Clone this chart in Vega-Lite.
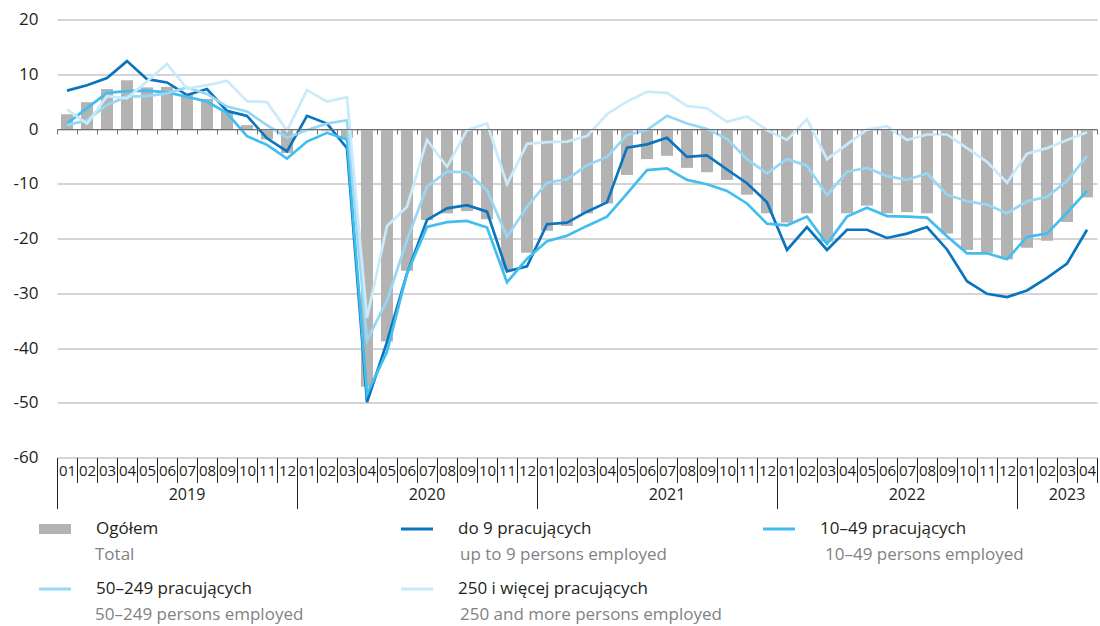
{
"$schema": "https://vega.github.io/schema/vega-lite/v6.json",
"width": 1040, "height": 438,
"autosize": {"type": "none"},
"padding": {"left": 57, "top": 19.5, "right": 3, "bottom": 168.5},
"background": "white",
"config": {"view": {"stroke": null}, "font": "Open Sans"},
"datasets": {
"series": [
{"s": "Ogółem", "en": "Total"},
{"s": "do 9 pracujących", "en": "up to 9 persons employed"},
{"s": "10–49 pracujących", "en": "10–49 persons employed"},
{"s": "50–249 pracujących", "en": "50–249 persons employed"},
{"s": "250 i więcej pracujących", "en": "250 and more persons employed"}
],
"main": [
{"m":"2019-01","s":"Ogółem","v":2.7},{"m":"2019-02","s":"Ogółem","v":4.9},{"m":"2019-03","s":"Ogółem","v":7.3},{"m":"2019-04","s":"Ogółem","v":8.9},{"m":"2019-05","s":"Ogółem","v":7.6},{"m":"2019-06","s":"Ogółem","v":7.7},{"m":"2019-07","s":"Ogółem","v":6.3},{"m":"2019-08","s":"Ogółem","v":5.5},{"m":"2019-09","s":"Ogółem","v":3.2},{"m":"2019-10","s":"Ogółem","v":0.7},{"m":"2019-11","s":"Ogółem","v":-1.9},{"m":"2019-12","s":"Ogółem","v":-4.4},
{"m":"2020-01","s":"Ogółem","v":-0.3},{"m":"2020-02","s":"Ogółem","v":-0.4},{"m":"2020-03","s":"Ogółem","v":-1.6},{"m":"2020-04","s":"Ogółem","v":-47.1},{"m":"2020-05","s":"Ogółem","v":-38.8},{"m":"2020-06","s":"Ogółem","v":-25.9},{"m":"2020-07","s":"Ogółem","v":-16.6},{"m":"2020-08","s":"Ogółem","v":-15.4},{"m":"2020-09","s":"Ogółem","v":-15.0},{"m":"2020-10","s":"Ogółem","v":-16.5},{"m":"2020-11","s":"Ogółem","v":-25.8},{"m":"2020-12","s":"Ogółem","v":-22.6},
{"m":"2021-01","s":"Ogółem","v":-18.6},{"m":"2021-02","s":"Ogółem","v":-17.7},{"m":"2021-03","s":"Ogółem","v":-15.4},{"m":"2021-04","s":"Ogółem","v":-13.6},{"m":"2021-05","s":"Ogółem","v":-8.4},{"m":"2021-06","s":"Ogółem","v":-5.5},{"m":"2021-07","s":"Ogółem","v":-4.9},{"m":"2021-08","s":"Ogółem","v":-7.1},{"m":"2021-09","s":"Ogółem","v":-7.9},{"m":"2021-10","s":"Ogółem","v":-9.3},{"m":"2021-11","s":"Ogółem","v":-12.0},{"m":"2021-12","s":"Ogółem","v":-15.4},
{"m":"2022-01","s":"Ogółem","v":-17.1},{"m":"2022-02","s":"Ogółem","v":-15.4},{"m":"2022-03","s":"Ogółem","v":-20.6},{"m":"2022-04","s":"Ogółem","v":-15.4},{"m":"2022-05","s":"Ogółem","v":-14.0},{"m":"2022-06","s":"Ogółem","v":-15.4},{"m":"2022-07","s":"Ogółem","v":-15.2},{"m":"2022-08","s":"Ogółem","v":-15.4},{"m":"2022-09","s":"Ogółem","v":-19.1},{"m":"2022-10","s":"Ogółem","v":-22.1},{"m":"2022-11","s":"Ogółem","v":-22.6},{"m":"2022-12","s":"Ogółem","v":-23.8},
{"m":"2023-01","s":"Ogółem","v":-21.7},{"m":"2023-02","s":"Ogółem","v":-20.4},{"m":"2023-03","s":"Ogółem","v":-17.0},{"m":"2023-04","s":"Ogółem","v":-12.5},

{"m":"2019-01","s":"do 9 pracujących","v":7.0},{"m":"2019-02","s":"do 9 pracujących","v":8.0},{"m":"2019-03","s":"do 9 pracujących","v":9.3},{"m":"2019-04","s":"do 9 pracujących","v":12.4},{"m":"2019-05","s":"do 9 pracujących","v":9.1},{"m":"2019-06","s":"do 9 pracujących","v":8.5},{"m":"2019-07","s":"do 9 pracujących","v":6.2},{"m":"2019-08","s":"do 9 pracujących","v":7.3},{"m":"2019-09","s":"do 9 pracujących","v":3.3},{"m":"2019-10","s":"do 9 pracujących","v":2.4},{"m":"2019-11","s":"do 9 pracujących","v":-1.7},{"m":"2019-12","s":"do 9 pracujących","v":-4.1},
{"m":"2020-01","s":"do 9 pracujących","v":2.4},{"m":"2020-02","s":"do 9 pracujących","v":1.0},{"m":"2020-03","s":"do 9 pracujących","v":-3.5},{"m":"2020-04","s":"do 9 pracujących","v":-49.9},{"m":"2020-05","s":"do 9 pracujących","v":-38.9},{"m":"2020-06","s":"do 9 pracujących","v":-26.4},{"m":"2020-07","s":"do 9 pracujących","v":-16.6},{"m":"2020-08","s":"do 9 pracujących","v":-14.5},{"m":"2020-09","s":"do 9 pracujących","v":-13.9},{"m":"2020-10","s":"do 9 pracujących","v":-15.1},{"m":"2020-11","s":"do 9 pracujących","v":-26.0},{"m":"2020-12","s":"do 9 pracujących","v":-25.1},
{"m":"2021-01","s":"do 9 pracujących","v":-17.4},{"m":"2021-02","s":"do 9 pracujących","v":-17.1},{"m":"2021-03","s":"do 9 pracujących","v":-15.1},{"m":"2021-04","s":"do 9 pracujących","v":-13.4},{"m":"2021-05","s":"do 9 pracujących","v":-3.4},{"m":"2021-06","s":"do 9 pracujących","v":-2.8},{"m":"2021-07","s":"do 9 pracujących","v":-1.6},{"m":"2021-08","s":"do 9 pracujących","v":-5.1},{"m":"2021-09","s":"do 9 pracujących","v":-4.8},{"m":"2021-10","s":"do 9 pracujących","v":-7.4},{"m":"2021-11","s":"do 9 pracujących","v":-9.9},{"m":"2021-12","s":"do 9 pracujących","v":-13.4},
{"m":"2022-01","s":"do 9 pracujących","v":-22.1},{"m":"2022-02","s":"do 9 pracujących","v":-17.9},{"m":"2022-03","s":"do 9 pracujących","v":-22.1},{"m":"2022-04","s":"do 9 pracujących","v":-18.4},{"m":"2022-05","s":"do 9 pracujących","v":-18.4},{"m":"2022-06","s":"do 9 pracujących","v":-19.9},{"m":"2022-07","s":"do 9 pracujących","v":-19.1},{"m":"2022-08","s":"do 9 pracujących","v":-17.9},{"m":"2022-09","s":"do 9 pracujących","v":-22.0},{"m":"2022-10","s":"do 9 pracujących","v":-27.8},{"m":"2022-11","s":"do 9 pracujących","v":-30.1},{"m":"2022-12","s":"do 9 pracujących","v":-30.7},
{"m":"2023-01","s":"do 9 pracujących","v":-29.5},{"m":"2023-02","s":"do 9 pracujących","v":-27.2},{"m":"2023-03","s":"do 9 pracujących","v":-24.6},{"m":"2023-04","s":"do 9 pracujących","v":-18.4},

{"m":"2019-01","s":"10–49 pracujących","v":1.0},{"m":"2019-02","s":"10–49 pracujących","v":3.8},{"m":"2019-03","s":"10–49 pracujących","v":6.6},{"m":"2019-04","s":"10–49 pracujących","v":6.9},{"m":"2019-05","s":"10–49 pracujących","v":7.0},{"m":"2019-06","s":"10–49 pracujących","v":6.7},{"m":"2019-07","s":"10–49 pracujących","v":5.9},{"m":"2019-08","s":"10–49 pracujących","v":5.0},{"m":"2019-09","s":"10–49 pracujących","v":2.9},{"m":"2019-10","s":"10–49 pracujących","v":-1.3},{"m":"2019-11","s":"10–49 pracujących","v":-2.9},{"m":"2019-12","s":"10–49 pracujących","v":-5.4},
{"m":"2020-01","s":"10–49 pracujących","v":-2.3},{"m":"2020-02","s":"10–49 pracujących","v":-0.7},{"m":"2020-03","s":"10–49 pracujących","v":-1.9},{"m":"2020-04","s":"10–49 pracujących","v":-48.4},{"m":"2020-05","s":"10–49 pracujących","v":-40.7},{"m":"2020-06","s":"10–49 pracujących","v":-26.4},{"m":"2020-07","s":"10–49 pracujących","v":-17.9},{"m":"2020-08","s":"10–49 pracujących","v":-17.0},{"m":"2020-09","s":"10–49 pracujących","v":-16.8},{"m":"2020-10","s":"10–49 pracujących","v":-18.0},{"m":"2020-11","s":"10–49 pracujących","v":-28.0},{"m":"2020-12","s":"10–49 pracujących","v":-23.7},
{"m":"2021-01","s":"10–49 pracujących","v":-20.5},{"m":"2021-02","s":"10–49 pracujących","v":-19.5},{"m":"2021-03","s":"10–49 pracujących","v":-17.7},{"m":"2021-04","s":"10–49 pracujących","v":-16.0},{"m":"2021-05","s":"10–49 pracujących","v":-11.8},{"m":"2021-06","s":"10–49 pracujących","v":-7.5},{"m":"2021-07","s":"10–49 pracujących","v":-7.2},{"m":"2021-08","s":"10–49 pracujących","v":-9.3},{"m":"2021-09","s":"10–49 pracujących","v":-10.1},{"m":"2021-10","s":"10–49 pracujących","v":-11.3},{"m":"2021-11","s":"10–49 pracujących","v":-13.6},{"m":"2021-12","s":"10–49 pracujących","v":-17.3},
{"m":"2022-01","s":"10–49 pracujących","v":-17.6},{"m":"2022-02","s":"10–49 pracujących","v":-16.0},{"m":"2022-03","s":"10–49 pracujących","v":-21.0},{"m":"2022-04","s":"10–49 pracujących","v":-16.0},{"m":"2022-05","s":"10–49 pracujących","v":-14.4},{"m":"2022-06","s":"10–49 pracujących","v":-15.9},{"m":"2022-07","s":"10–49 pracujących","v":-16.0},{"m":"2022-08","s":"10–49 pracujących","v":-16.2},{"m":"2022-09","s":"10–49 pracujących","v":-19.6},{"m":"2022-10","s":"10–49 pracujących","v":-22.7},{"m":"2022-11","s":"10–49 pracujących","v":-22.7},{"m":"2022-12","s":"10–49 pracujących","v":-23.8},
{"m":"2023-01","s":"10–49 pracujących","v":-19.7},{"m":"2023-02","s":"10–49 pracujących","v":-19.1},{"m":"2023-03","s":"10–49 pracujących","v":-15.3},{"m":"2023-04","s":"10–49 pracujących","v":-11.3},

{"m":"2019-01","s":"50–249 pracujących","v":0.7},{"m":"2019-02","s":"50–249 pracujących","v":1.6},{"m":"2019-03","s":"50–249 pracujących","v":4.4},{"m":"2019-04","s":"50–249 pracujących","v":5.9},{"m":"2019-05","s":"50–249 pracujących","v":6.0},{"m":"2019-06","s":"50–249 pracujących","v":6.5},{"m":"2019-07","s":"50–249 pracujących","v":7.6},{"m":"2019-08","s":"50–249 pracujących","v":6.4},{"m":"2019-09","s":"50–249 pracujących","v":4.1},{"m":"2019-10","s":"50–249 pracujących","v":3.2},{"m":"2019-11","s":"50–249 pracujących","v":0.7},{"m":"2019-12","s":"50–249 pracujących","v":-1.6},
{"m":"2020-01","s":"50–249 pracujących","v":-0.2},{"m":"2020-02","s":"50–249 pracujących","v":1.0},{"m":"2020-03","s":"50–249 pracujących","v":1.6},{"m":"2020-04","s":"50–249 pracujących","v":-38.6},{"m":"2020-05","s":"50–249 pracujących","v":-31.3},{"m":"2020-06","s":"50–249 pracujących","v":-20.3},{"m":"2020-07","s":"50–249 pracujących","v":-10.5},{"m":"2020-08","s":"50–249 pracujących","v":-7.8},{"m":"2020-09","s":"50–249 pracujących","v":-7.9},{"m":"2020-10","s":"50–249 pracujących","v":-11.2},{"m":"2020-11","s":"50–249 pracujących","v":-19.7},{"m":"2020-12","s":"50–249 pracujących","v":-14.2},
{"m":"2021-01","s":"50–249 pracujących","v":-9.8},{"m":"2021-02","s":"50–249 pracujących","v":-9.2},{"m":"2021-03","s":"50–249 pracujących","v":-6.6},{"m":"2021-04","s":"50–249 pracujących","v":-5.1},{"m":"2021-05","s":"50–249 pracujących","v":-1.1},{"m":"2021-06","s":"50–249 pracujących","v":-0.2},{"m":"2021-07","s":"50–249 pracujących","v":2.4},{"m":"2021-08","s":"50–249 pracujących","v":1.0},{"m":"2021-09","s":"50–249 pracujących","v":0.0},{"m":"2021-10","s":"50–249 pracujących","v":-1.8},{"m":"2021-11","s":"50–249 pracujących","v":-5.5},{"m":"2021-12","s":"50–249 pracujących","v":-8.1},
{"m":"2022-01","s":"50–249 pracujących","v":-5.5},{"m":"2022-02","s":"50–249 pracujących","v":-6.7},{"m":"2022-03","s":"50–249 pracujących","v":-12.1},{"m":"2022-04","s":"50–249 pracujących","v":-7.8},{"m":"2022-05","s":"50–249 pracujących","v":-7.1},{"m":"2022-06","s":"50–249 pracujących","v":-8.6},{"m":"2022-07","s":"50–249 pracujących","v":-9.3},{"m":"2022-08","s":"50–249 pracujących","v":-8.1},{"m":"2022-09","s":"50–249 pracujących","v":-12.0},{"m":"2022-10","s":"50–249 pracujących","v":-13.2},{"m":"2022-11","s":"50–249 pracujących","v":-13.8},{"m":"2022-12","s":"50–249 pracujących","v":-15.4},
{"m":"2023-01","s":"50–249 pracujących","v":-13.2},{"m":"2023-02","s":"50–249 pracujących","v":-12.4},{"m":"2023-03","s":"50–249 pracujących","v":-9.5},{"m":"2023-04","s":"50–249 pracujących","v":-4.9},

{"m":"2019-01","s":"250 i więcej pracujących","v":3.6},{"m":"2019-02","s":"250 i więcej pracujących","v":1.0},{"m":"2019-03","s":"250 i więcej pracujących","v":6.0},{"m":"2019-04","s":"250 i więcej pracujących","v":5.6},{"m":"2019-05","s":"250 i więcej pracujących","v":8.7},{"m":"2019-06","s":"250 i więcej pracujących","v":11.9},{"m":"2019-07","s":"250 i więcej pracujących","v":7.4},{"m":"2019-08","s":"250 i więcej pracujących","v":8.0},{"m":"2019-09","s":"250 i więcej pracujących","v":8.8},{"m":"2019-10","s":"250 i więcej pracujących","v":5.1},{"m":"2019-11","s":"250 i więcej pracujących","v":4.9},{"m":"2019-12","s":"250 i więcej pracujących","v":-0.3},
{"m":"2020-01","s":"250 i więcej pracujących","v":7.1},{"m":"2020-02","s":"250 i więcej pracujących","v":5.0},{"m":"2020-03","s":"250 i więcej pracujących","v":5.8},{"m":"2020-04","s":"250 i więcej pracujących","v":-34.5},{"m":"2020-05","s":"250 i więcej pracujących","v":-17.7},{"m":"2020-06","s":"250 i więcej pracujących","v":-14.2},{"m":"2020-07","s":"250 i więcej pracujących","v":-2.0},{"m":"2020-08","s":"250 i więcej pracujących","v":-6.9},{"m":"2020-09","s":"250 i więcej pracujących","v":-0.2},{"m":"2020-10","s":"250 i więcej pracujących","v":1.0},{"m":"2020-11","s":"250 i więcej pracujących","v":-10.1},{"m":"2020-12","s":"250 i więcej pracujących","v":-2.7},
{"m":"2021-01","s":"250 i więcej pracujących","v":-2.4},{"m":"2021-02","s":"250 i więcej pracujących","v":-2.3},{"m":"2021-03","s":"250 i więcej pracujących","v":-1.3},{"m":"2021-04","s":"250 i więcej pracujących","v":2.7},{"m":"2021-05","s":"250 i więcej pracujących","v":5.0},{"m":"2021-06","s":"250 i więcej pracujących","v":6.8},{"m":"2021-07","s":"250 i więcej pracujących","v":6.6},{"m":"2021-08","s":"250 i więcej pracujących","v":4.2},{"m":"2021-09","s":"250 i więcej pracujących","v":3.8},{"m":"2021-10","s":"250 i więcej pracujących","v":1.3},{"m":"2021-11","s":"250 i więcej pracujących","v":2.3},{"m":"2021-12","s":"250 i więcej pracujących","v":-0.2},
{"m":"2022-01","s":"250 i więcej pracujących","v":-2.0},{"m":"2022-02","s":"250 i więcej pracujących","v":1.8},{"m":"2022-03","s":"250 i więcej pracujących","v":-5.5},{"m":"2022-04","s":"250 i więcej pracujących","v":-2.8},{"m":"2022-05","s":"250 i więcej pracujących","v":-0.1},{"m":"2022-06","s":"250 i więcej pracujących","v":0.5},{"m":"2022-07","s":"250 i więcej pracujących","v":-2.0},{"m":"2022-08","s":"250 i więcej pracujących","v":-1.0},{"m":"2022-09","s":"250 i więcej pracujących","v":-1.0},{"m":"2022-10","s":"250 i więcej pracujących","v":-3.5},{"m":"2022-11","s":"250 i więcej pracujących","v":-6.0},{"m":"2022-12","s":"250 i więcej pracujących","v":-9.8},
{"m":"2023-01","s":"250 i więcej pracujących","v":-4.5},{"m":"2023-02","s":"250 i więcej pracujących","v":-3.5},{"m":"2023-03","s":"250 i więcej pracujących","v":-2.0},{"m":"2023-04","s":"250 i więcej pracujących","v":-0.6}
]
},
"data": {"name": "main"},
"transform": [{"lookup": "s", "from": {"data": {"name": "series"}, "key": "s", "fields": ["en"]}}],
"encoding": {
  "y": {"field": "v", "type": "quantitative", "scale": {"domain": [-60, 20], "nice": false, "zero": false},
    "axis": {"title": null, "values": [-60,-50,-40,-30,-20,-10,0,10,20], "grid": true, "gridColor": "#a7a9ac", "gridWidth": 1, "ticks": false, "domain": false, "labelFontSize": 17, "labelColor": "#231f20", "labelPadding": 19, "labelFont": "Open Sans", "labelExpr": "replace(datum.label, '−', '-')"}}
},
"layer": [
{
  "transform": [{"filter": "datum.s === 'Ogółem'"}],
  "mark": {"type": "bar", "width": {"band": 0.6}},
  "encoding": {
    "x": {"field": "m", "type": "ordinal", "scale": {"type": "band", "paddingInner": 0, "paddingOuter": 0},
      "axis": {"orient": "bottom", "title": null, "tickBand": "extent", "tickSize": 25, "tickColor": "#231f20", "tickWidth": 1, "domain": false, "labelFontSize": 15, "labelColor": "#231f20", "labelFont": "Open Sans", "labelPadding": -12.5, "labelBaseline": "middle", "labelAngle": 0, "labelOverlap": false, "labelExpr": "isString(datum.value) ? substring(datum.value, 5, 7) : ''"}},
    "color": {"field": "s", "type": "nominal",
      "scale": {"domain": ["Ogółem", "do 9 pracujących", "10–49 pracujących", "50–249 pracujących", "250 i więcej pracujących"], "range": ["#b3b3b3", "#0b74bf", "#42bdf0", "#96d7f5", "#c9eafa"]},
      "legend": {"orient": "none", "legendX": -18, "legendY": 499.5, "direction": "horizontal", "columns": 3, "title": null,
        "symbolType": "stroke", "symbolSize": 2209, "symbolStrokeWidth": 3, "clipHeight": 20,
        "labelFont": "Open Sans", "labelFontSize": 17, "labelColor": "#231f20", "labelOffset": 40, "labelLimit": 400,
        "rowPadding": 40, "columnPadding": 114, "gridAlign": "all", "padding": 0,
        "encode": {"symbols": {"update": {
          "shape": {"signal": "datum.value === 'Ogółem' ? 'M-1,-0.213L1,-0.213L1,0.213L-1,0.213Z' : 'stroke'"},
          "fill": {"signal": "datum.value === 'Ogółem' ? '#b3b3b3' : 'transparent'"},
          "stroke": {"scale": "color", "field": "value"},
          "strokeWidth": {"signal": "datum.value === 'Ogółem' ? 0 : 3"},
          "opacity": {"value": 1}
        }}}}},
    "opacity": {"field": "en", "type": "ordinal",
      "scale": {"domain": ["Total", "up to 9 persons employed", "10–49 persons employed", "50–249 persons employed", "250 and more persons employed"], "range": [1, 1]},
      "legend": {"orient": "none", "legendX": -20, "legendY": 525.5, "direction": "horizontal", "columns": 3, "title": null,
        "symbolType": "stroke", "symbolSize": 2209, "symbolStrokeWidth": 3, "clipHeight": 20,
        "labelFont": "Open Sans", "labelFontSize": 17, "labelColor": "#808285", "labelOffset": 8, "labelLimit": 400,
        "rowPadding": 40, "columnPadding": 45, "gridAlign": "all", "padding": 0,
        "encode": {"symbols": {"update": {"opacity": {"value": 0}}}}}}
  }
},
{
  "transform": [{"filter": "datum.s !== 'Ogółem'"}],
  "mark": {"type": "line", "strokeWidth": 2.7},
  "encoding": {
    "x": {"field": "m", "type": "ordinal", "scale": {"type": "band", "paddingInner": 0, "paddingOuter": 0},
      "axis": {"orient": "bottom", "title": null, "values": ["2019-07", "2020-07", "2021-07", "2022-07", "2023-03"], "bandPosition": 0, "ticks": false, "tickSize": 0, "domain": false, "labelFontSize": 16, "labelColor": "#231f20", "labelFont": "Open Sans", "labelPadding": 36.5, "labelBaseline": "middle", "labelAngle": 0, "labelOverlap": false, "labelExpr": "isString(datum.value) ? substring(datum.value, 0, 4) : ''"}},
    "color": {"field": "s", "type": "nominal"},
    "opacity": {"field": "en", "type": "ordinal"}
  }
},
{
  "transform": [{"filter": "datum.s === 'Ogółem'"}],
  "mark": {"type": "bar", "opacity": 0},
  "encoding": {
    "x": {"field": "m", "type": "ordinal", "scale": {"type": "band", "paddingInner": 0, "paddingOuter": 0},
      "axis": {"orient": "bottom", "title": null, "values": ["2019-01", "2020-01", "2021-01", "2022-01", "2023-01"], "bandPosition": 0, "tickSize": 51, "tickColor": "#231f20", "tickWidth": 1, "labels": false, "domain": false}}
  }
},
{
  "transform": [{"filter": "datum.s === 'Ogółem'"}],
  "mark": {"type": "bar", "opacity": 0},
  "encoding": {
    "x": {"field": "m", "type": "ordinal", "scale": {"type": "band", "paddingInner": 0, "paddingOuter": 0},
      "axis": {"orient": "bottom", "title": null, "tickBand": "extent", "tickSize": 5, "tickColor": "#6d6e71", "tickWidth": 1, "labels": false, "domain": true, "domainColor": "#6d6e71", "domainWidth": 1.2, "offset": -328.5, "zindex": 1}}
  }
}
],
"resolve": {"axis": {"x": "independent"}}
}
